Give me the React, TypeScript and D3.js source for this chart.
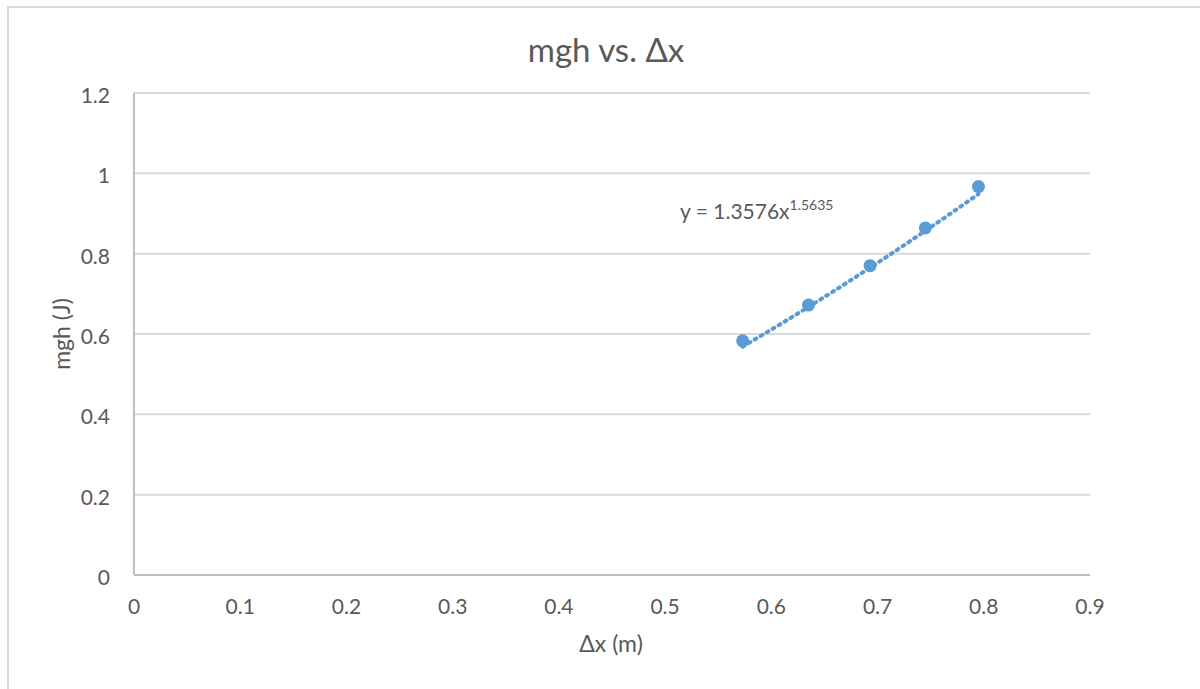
import React, { useEffect, useRef } from 'react';
import * as d3 from 'd3';

// values
const dxValues = [0.573, 0.635, 0.693, 0.745, 0.795];
const mghValues = [0.583, 0.672, 0.77, 0.864, 0.967];
const xTicks = [0, 0.1, 0.2, 0.3, 0.4, 0.5, 0.6, 0.7, 0.8, 0.9];
const yTicks = [0, 0.2, 0.4, 0.6, 0.8, 1, 1.2];
// power trendline y = a * x^b, from the label
const fitA = 1.3576;
const fitB = 1.5635;

const WIDTH = 1200;
const HEIGHT = 689;
const FONT = 'Lato, "Open Sans", "DejaVu Sans", sans-serif';
const TEXT_COLOR = '#595959';
const BLUE = '#5b9bd5';

const App = () => {
  const svgRef = useRef<SVGSVGElement | null>(null);

  useEffect(() => {
    const svg = d3.select(svgRef.current);
    svg.selectAll('*').remove();

    const plot = { left: 134, right: 1090, top: 93, bottom: 575 };

    const x = d3.scaleLinear().domain([0, 0.9]).range([plot.left, plot.right]);
    const y = d3.scaleLinear().domain([0, 1.2]).range([plot.bottom, plot.top]);

    // background and outer frame
    svg.append('rect')
      .attr('width', WIDTH)
      .attr('height', HEIGHT)
      .attr('fill', '#fff');
    svg.append('path')
      .attr('d', `M${WIDTH},7 H8 V${HEIGHT}`)
      .attr('fill', 'none')
      .attr('stroke', '#d9d9d9')
      .attr('stroke-width', 2);

    // title
    svg.append('text')
      .attr('x', 606)
      .attr('y', 62)
      .attr('text-anchor', 'middle')
      .attr('font-family', FONT)
      .attr('font-size', 33)
      .attr('fill', TEXT_COLOR)
      .text('mgh vs. Δx');

    // horizontal grid lines
    svg.append('g')
      .selectAll('line')
      .data(yTicks.filter(d => d !== 0))
      .enter()
      .append('line')
      .attr('x1', plot.left)
      .attr('x2', plot.right)
      .attr('y1', d => y(d))
      .attr('y2', d => y(d))
      .attr('stroke', '#d9d9d9')
      .attr('stroke-width', 2);

    // axis lines
    svg.append('line')
      .attr('x1', plot.left)
      .attr('x2', plot.left)
      .attr('y1', plot.top)
      .attr('y2', plot.bottom)
      .attr('stroke', '#bfbfbf')
      .attr('stroke-width', 2);
    svg.append('line')
      .attr('x1', plot.left)
      .attr('x2', plot.right)
      .attr('y1', plot.bottom)
      .attr('y2', plot.bottom)
      .attr('stroke', '#bfbfbf')
      .attr('stroke-width', 2);

    // y tick labels
    svg.append('g')
      .selectAll('text')
      .data(yTicks)
      .enter()
      .append('text')
      .attr('x', 110)
      .attr('y', d => y(d) + 10)
      .attr('text-anchor', 'end')
      .attr('font-family', FONT)
      .attr('font-size', 21)
      .attr('fill', TEXT_COLOR)
      .text(d => String(d));

    // x tick labels
    svg.append('g')
      .selectAll('text')
      .data(xTicks)
      .enter()
      .append('text')
      .attr('x', d => x(d))
      .attr('y', 614)
      .attr('text-anchor', 'middle')
      .attr('font-family', FONT)
      .attr('font-size', 21)
      .attr('fill', TEXT_COLOR)
      .text(d => String(d));

    // axis titles
    svg.append('text')
      .attr('x', 611)
      .attr('y', 652)
      .attr('text-anchor', 'middle')
      .attr('font-family', FONT)
      .attr('font-size', 23)
      .attr('fill', TEXT_COLOR)
      .text('Δx (m)');
    svg.append('text')
      .attr('transform', `translate(70,${(plot.top + plot.bottom) / 2}) rotate(-90)`)
      .attr('text-anchor', 'middle')
      .attr('font-family', FONT)
      .attr('font-size', 23)
      .attr('fill', TEXT_COLOR)
      .text('mgh (J)');

    const points = dxValues.map((d, i) => ({ dx: d, mgh: mghValues[i] }));

    // data points
    svg.append('g')
      .selectAll('circle')
      .data(points)
      .enter()
      .append('circle')
      .attr('cx', d => x(d.dx))
      .attr('cy', d => y(d.mgh))
      .attr('r', 6.5)
      .attr('fill', BLUE);

    // dotted power trendline
    const trend = d3.line<number>()
      .x(d => x(d))
      .y(d => y(fitA * Math.pow(d, fitB)))
      .curve(d3.curveMonotoneX);
    svg.append('path')
      .datum(dxValues)
      .attr('d', trend)
      .attr('fill', 'none')
      .attr('stroke', BLUE)
      .attr('stroke-width', 4)
      .attr('stroke-linecap', 'round')
      .attr('stroke-dasharray', '2,5');

    // equation label
    const eq = svg.append('text')
      .attr('x', 680)
      .attr('y', 219)
      .attr('font-family', FONT)
      .attr('font-size', 21)
      .attr('fill', TEXT_COLOR);
    eq.append('tspan').text(`y = ${fitA}x`);
    eq.append('tspan')
      .attr('dy', -9)
      .attr('font-size', 14)
      .text(String(fitB));
  }, []);

  return (
    <svg
      ref={svgRef}
      width={WIDTH}
      height={HEIGHT}
      style={{ position: 'absolute', left: 0, top: 0, display: 'block' }}
    />
  );
};

export default App;
